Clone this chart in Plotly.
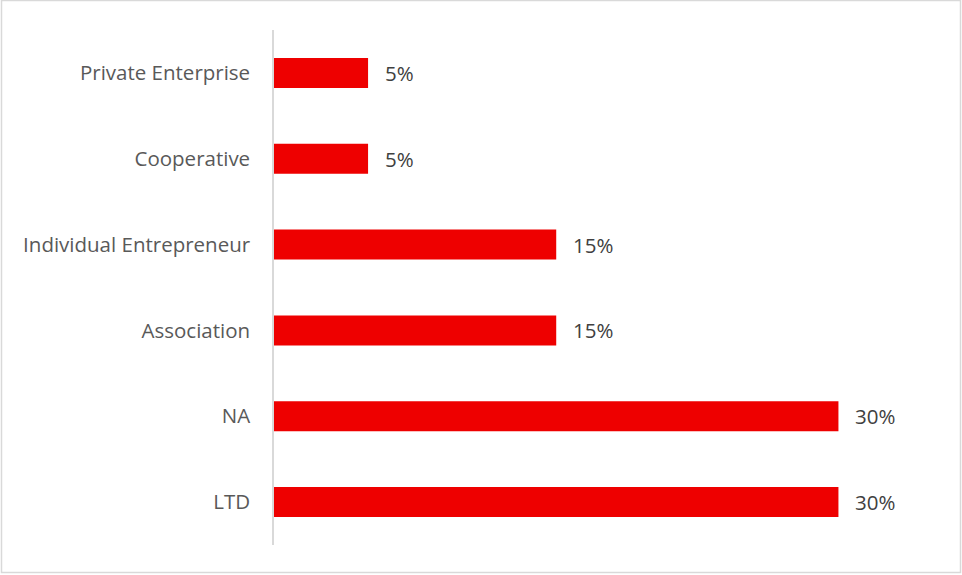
import plotly.graph_objects as go

categories = ["LTD", "NA", "Association", "Individual Entrepreneur", "Cooperative", "Private Enterprise"]
values = [30, 30, 15, 15, 5, 5]
value_labels = ["30%", "30%", "15%", "15%", "5%", "5%"]

W, H = 962, 575
ML, MR, MT, MB = 274, 69, 30, 30
X_MAX = 32.9
FONT = "Open Sans, Lato, sans-serif"

fig = go.Figure(
    go.Bar(
        x=values,
        y=categories,
        orientation="h",
        marker=dict(color="#EE0000", line=dict(width=0)),
        hoverinfo="skip",
    )
)

for cat, val, lab in zip(categories, values, value_labels):
    fig.add_annotation(
        x=val, y=cat, text=lab, showarrow=False,
        xanchor="left", yanchor="middle", xshift=15,
        font=dict(family=FONT, size=20.5, color="#404040"),
    )

# outer frame around the whole chart area
pw = W - ML - MR
ph = H - MT - MB
fig.add_shape(
    type="rect", xref="paper", yref="paper",
    x0=(1.5 - ML) / pw, x1=(W - 1.5 - ML) / pw,
    y0=-(MB - 2.5) / ph, y1=1 + (MT - 0.5) / ph,
    line=dict(color="#D9D9D9", width=1.5), fillcolor="rgba(0,0,0,0)", layer="below",
)

fig.update_layout(
    width=W, height=H,
    margin=dict(l=ML, r=MR, t=MT, b=MB),
    paper_bgcolor="white", plot_bgcolor="white",
    bargap=0.65,
    showlegend=False,
    font=dict(family=FONT),
)
fig.update_xaxes(range=[0, X_MAX], visible=False, showgrid=False, zeroline=False)
fig.update_yaxes(
    showline=True, linecolor="#D9D9D9", linewidth=1.5,
    showgrid=False, ticks="", ticklabelstandoff=18,
    tickfont=dict(family=FONT, size=20.5, color="#595959"),
)

fig.write_html("out.html")
